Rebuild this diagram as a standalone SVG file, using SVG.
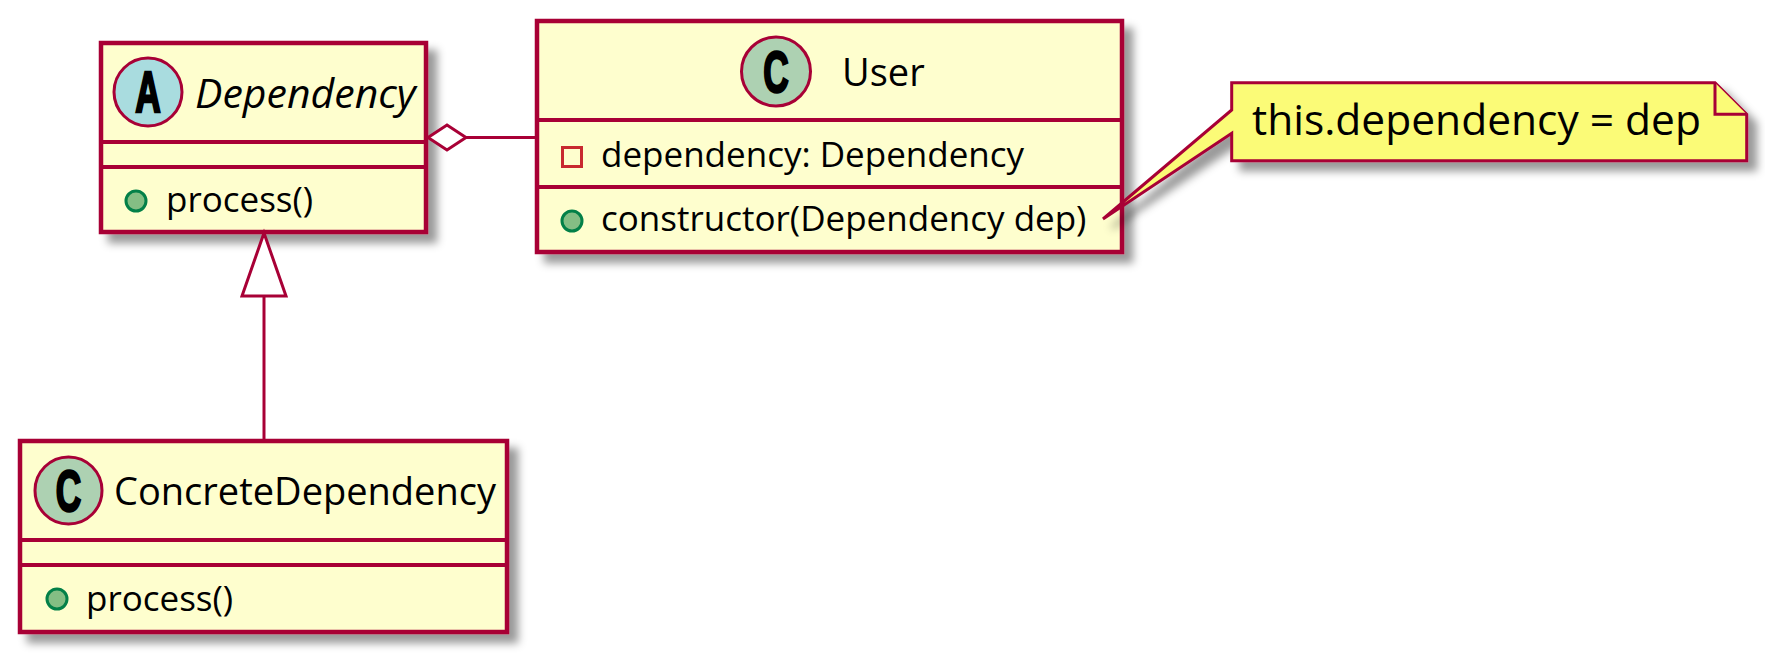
<svg xmlns="http://www.w3.org/2000/svg" width="1765" height="671" viewBox="0 0 1765 671">
<defs>
<filter id="sh" x="-10%" y="-10%" width="130%" height="130%">
<feGaussianBlur in="SourceAlpha" stdDeviation="4"/>
<feOffset dx="9" dy="9" result="b"/>
<feFlood flood-color="#000" flood-opacity="0.4"/>
<feComposite in2="b" operator="in"/>
<feMerge><feMergeNode/><feMergeNode in="SourceGraphic"/></feMerge>
</filter>
<style>
.box{fill:#FEFECE;stroke:#A80036;stroke-width:4.5}
.sep{stroke:#A80036;stroke-width:4}
.hd{font-family:"Open Sans","Noto Sans",sans-serif;font-size:38px;fill:#000}
.hdi{font-family:"Open Sans","Noto Sans",sans-serif;font-size:41px;font-style:italic;fill:#000}
.mb{font-family:"Open Sans","Noto Sans",sans-serif;font-size:35px;fill:#000}
.nt{font-family:"Open Sans","Noto Sans",sans-serif;font-size:42.5px;fill:#000}
.cc{fill:#ADD1B2;stroke:#A80036;stroke-width:3}
.ca{fill:#A9DCDF;stroke:#A80036;stroke-width:3}
.ltr{font-family:"Liberation Sans",Arial,sans-serif;font-weight:bold;font-size:57px;fill:#000;stroke:#000;stroke-width:2.5}
.pub{fill:#84BE84;stroke:#038048;stroke-width:3}
.prv{fill:none;stroke:#C82930;stroke-width:3}
.ln{stroke:#A80036;stroke-width:3;fill:none}
.hd2{fill:#fff;stroke:#A80036;stroke-width:3}
.note{fill:#FBFB77;stroke:#A80036;stroke-width:3}
</style>
</defs>
<rect width="1765" height="671" fill="#fff"/>

<g id="Dependency">
<rect class="box" x="101" y="43" width="325" height="189" filter="url(#sh)"/>
<line class="sep" x1="101" y1="142" x2="426" y2="142"/>
<line class="sep" x1="101" y1="167" x2="426" y2="167"/>
<circle class="ca" cx="148" cy="92" r="34"/>
<text class="ltr" text-anchor="middle" transform="translate(148,112) scale(0.62,1)">A</text>
<text class="hdi" x="195" y="108">Dependency</text>
<circle class="pub" cx="136" cy="201" r="10"/>
<text class="mb" x="166" y="212">process()</text>
</g>

<g id="User">
<rect class="box" x="537" y="21" width="585" height="231" filter="url(#sh)"/>
<line class="sep" x1="537" y1="120" x2="1122" y2="120"/>
<line class="sep" x1="537" y1="187" x2="1122" y2="187"/>
<circle class="cc" cx="776" cy="71.5" r="34.5"/>
<text class="ltr" text-anchor="middle" transform="translate(776,92) scale(0.62,1)">C</text>
<text class="hd" x="842" y="85.5">User</text>
<rect class="prv" x="562.5" y="147.5" width="19" height="19"/>
<text class="mb" x="601" y="167">dependency: Dependency</text>
<circle class="pub" cx="572" cy="221" r="10"/>
<text class="mb" x="601" y="231">constructor(Dependency dep)</text>
</g>

<g id="ConcreteDependency">
<rect class="box" x="20" y="441" width="487" height="191" filter="url(#sh)"/>
<line class="sep" x1="20" y1="540" x2="507" y2="540"/>
<line class="sep" x1="20" y1="565" x2="507" y2="565"/>
<circle class="cc" cx="68.5" cy="490.5" r="33.5"/>
<text class="ltr" text-anchor="middle" transform="translate(68.5,511) scale(0.62,1)">C</text>
<text class="hd" x="114" y="505">ConcreteDependency</text>
<circle class="pub" cx="57" cy="599" r="10"/>
<text class="mb" x="86" y="611">process()</text>
</g>

<g id="note">
<path class="note" d="M1231.7,82.7 L1715,82.7 L1746.7,114.3 L1746.7,160.7 L1231.7,160.7 L1231.7,133.3 L1103,219 L1231.7,110 Z" filter="url(#sh)"/>
<path class="note" d="M1715,82.7 L1715,114.3 L1746.7,114.3"/>
<text class="nt" x="1252" y="135">this.dependency = dep</text>
</g>

<g id="connectors">
<line class="ln" x1="466" y1="137.5" x2="537" y2="137.5"/>
<polygon class="hd2" points="428,137.5 447,125 466,137.5 447,150"/>
<line class="ln" x1="264" y1="296" x2="264" y2="441"/>
<polygon class="hd2" points="264,233 242,296 286,296"/>
</g>
</svg>
